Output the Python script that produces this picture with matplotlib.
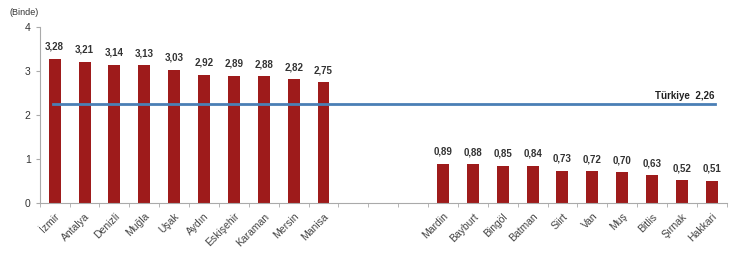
#!/usr/bin/env python3
"""Province rates (per mille): top 10 and bottom 10 with the Türkiye average."""

import matplotlib

matplotlib.use("Agg")
import matplotlib.pyplot as plt
import numpy as np

plt.rcParams["font.family"] = ["Liberation Sans", "DejaVu Sans"]

# ---------- data ------------------------------------------------------------ #
top_cities = ["İzmir", "Antalya", "Denizli", "Muğla", "Uşak",
              "Aydın", "Eskişehir", "Karaman", "Mersin", "Manisa"]
top_values = [3.28, 3.21, 3.14, 3.13, 3.03, 2.92, 2.89, 2.88, 2.82, 2.75]

bottom_cities = ["Mardin", "Bayburt", "Bingöl", "Batman", "Siirt",
                 "Van", "Muş", "Bitlis", "Şırnak", "Hakkari"]
bottom_values = [0.89, 0.88, 0.85, 0.84, 0.73, 0.72, 0.70, 0.63, 0.52, 0.51]

turkiye_value = 2.26
gap_slots = 3

# ---------- plot ------------------------------------------------------------ #
bar_color = "#9e1b1b"
line_color = "#4a7fb5"

fig = plt.figure(figsize=(7.5, 2.72), dpi=100)
ax = fig.add_axes([0.053, 0.254, 0.916, 0.646])

labels = top_cities + bottom_cities
values = top_values + bottom_values
pos = np.r_[np.arange(len(top_cities)),
            np.arange(len(bottom_cities)) + len(top_cities) + gap_slots]
n_slots = len(top_cities) + gap_slots + len(bottom_cities)

ax.bar(pos, values, width=0.4, color=bar_color, zorder=2)
for x, v in zip(pos, values):
    ax.text(x, v + 0.16, f"{v:.2f}".replace(".", ","), ha="center", va="bottom",
            fontsize=7, fontweight="bold", color="#333333")

ax.plot([pos[0] - 0.05, pos[-1] + 0.1], [turkiye_value] * 2,
        color=line_color, lw=2, zorder=3)
ax.text(pos[-1] + 0.1, turkiye_value + 0.06,
        f"Türkiye  {turkiye_value:.2f}".replace(".", ","),
        ha="right", va="bottom", fontsize=7, fontweight="bold", color="#222222")

ax.set_xlim(-0.5, n_slots - 0.5)
ax.set_ylim(0, 4)
ax.set_yticks(range(5))
ax.set_xticks(pos)
ax.set_xticklabels(labels, rotation=45, ha="right", rotation_mode="anchor",
                   fontsize=7.5, color="#444444")
ax.set_xticks(np.arange(n_slots + 1) - 0.5, minor=True)
ax.tick_params(axis="x", which="major", length=0, pad=6)
ax.tick_params(axis="x", which="minor", length=3, color="#aaaaaa")
ax.tick_params(axis="y", labelsize=7.5, length=3, color="#aaaaaa",
               labelcolor="#333333")

for side in ("top", "right"):
    ax.spines[side].set_visible(False)
for side in ("left", "bottom"):
    ax.spines[side].set_color("#aaaaaa")
    ax.spines[side].set_linewidth(0.8)

fig.text(0.013, 0.955, "(Binde)", fontsize=6.5, color="#333333",
         ha="left", va="center")

fig.savefig("out.png", dpi=100)
